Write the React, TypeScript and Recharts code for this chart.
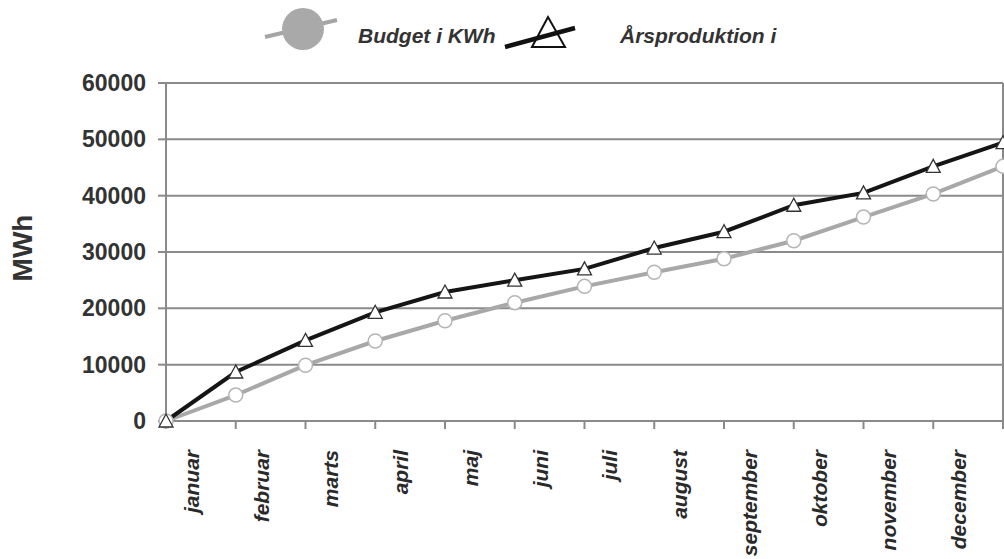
import React from "react";
import { LineChart, Line, XAxis, YAxis, CartesianGrid, ReferenceLine } from "recharts";

// måneder mellem tick-mærkerne
const months = [
  "januar", "februar", "marts", "april", "maj", "juni",
  "juli", "august", "september", "oktober", "november", "december",
];

// akkumulerede værdier, start + 12 måneder
const budget = [0, 4600, 9900, 14200, 17800, 21000, 23900, 26400, 28800, 32000, 36200, 40300, 45200];
const produktion = [0, 8700, 14300, 19300, 22900, 25000, 27000, 30700, 33600, 38300, 40500, 45200, 49400];

const yTicks = [0, 10000, 20000, 30000, 40000, 50000, 60000];
const xTicks = [0, 1, 2, 3, 4, 5, 6, 7, 8, 9, 10, 11, 12];

const data = budget.map((b, i) => ({ idx: i, budget: b, produktion: produktion[i] }));

const W = 1004;
const H = 559;
const PLOT_LEFT = 166;
const PLOT_RIGHT = 1003;
const PLOT_TOP = 83;
const PLOT_BOTTOM = 421;
const STEP = (PLOT_RIGHT - PLOT_LEFT) / 12;
const FONT = "'Liberation Sans', Arial, sans-serif";

const MonthTick = (props: any) => {
  const { x, y, payload } = props;
  const i = payload.value;
  if (i >= months.length) return null;
  const tx = x + STEP / 2 - 2;
  const ty = y + 19;
  return (
    <text
      x={tx}
      y={ty}
      transform={`rotate(-90, ${tx}, ${ty})`}
      textAnchor="end"
      fontFamily={FONT}
      fontStyle="italic"
      fontWeight="bold"
      fontSize={21}
      fill="#2a2a2a"
    >
      {months[i]}
    </text>
  );
};

const CircleDot = (props: any) => {
  const { cx, cy } = props;
  return <circle cx={cx} cy={cy} r={7} fill="#fff" stroke="#b5b5b5" strokeWidth={1.5} />;
};

const TriangleDot = (props: any) => {
  const { cx, cy } = props;
  const s = 7;
  return (
    <polygon
      points={`${cx},${cy - s} ${cx - s},${cy + s - 1} ${cx + s},${cy + s - 1}`}
      fill="#fff"
      stroke="#333"
      strokeWidth={1.3}
    />
  );
};

function LegendOverlay() {
  return (
    <svg width={W} height={70} style={{ position: "absolute", left: 0, top: 0 }}>
      <line x1={265} y1={37} x2={337} y2={20} stroke="#a5a5a5" strokeWidth={4} />
      <circle cx={303} cy={29} r={21} fill="#a9a9a9" />
      <text x={358} y={43} fontFamily={FONT} fontStyle="italic" fontWeight="bold" fontSize={21} fill="#333">
        Budget i KWh
      </text>
      <polygon points="548,17 532,47 565,47" fill="#fff" stroke="#111" strokeWidth={2} />
      <line x1={505} y1={47} x2={575} y2={28} stroke="#111" strokeWidth={4.5} />
      <text x={620} y={43} fontFamily={FONT} fontStyle="italic" fontWeight="bold" fontSize={21} fill="#333">
        Årsproduktion i
      </text>
    </svg>
  );
}

export default function App() {
  return (
    <div style={{ position: "absolute", left: 0, top: 0, width: W, height: H, background: "#fff" }}>
      <LineChart
        width={W}
        height={H}
        data={data}
        margin={{ top: PLOT_TOP, right: W - PLOT_RIGHT, bottom: 0, left: 0 }}
      >
        <CartesianGrid vertical={false} stroke="#8a8a8a" strokeWidth={2} />
        <XAxis
          dataKey="idx"
          type="number"
          domain={[0, 12]}
          ticks={xTicks}
          interval={0}
          height={H - PLOT_BOTTOM}
          tick={<MonthTick />}
          tickSize={8}
          tickLine={{ stroke: "#8a8a8a", strokeWidth: 2 }}
          axisLine={{ stroke: "#8a8a8a", strokeWidth: 2 }}
        />
        <YAxis
          domain={[0, 60000]}
          ticks={yTicks}
          interval={0}
          width={PLOT_LEFT}
          tickSize={8}
          tickMargin={12}
          tickLine={{ stroke: "#8a8a8a", strokeWidth: 2 }}
          axisLine={{ stroke: "#8a8a8a", strokeWidth: 2 }}
          tick={{ fontFamily: FONT, fontSize: 23, fontWeight: "bold", fill: "#333" }}
          label={{
            content: () => (
              <text
                x={32}
                y={248}
                transform="rotate(-90, 32, 248)"
                textAnchor="middle"
                fontFamily={FONT}
                fontWeight="bold"
                fontSize={28}
                fill="#333"
              >
                MWh
              </text>
            ),
          }}
        />
        <ReferenceLine x={12} stroke="#8a8a8a" strokeWidth={2} />
        <Line
          type="linear"
          dataKey="budget"
          stroke="#a8a8a8"
          strokeWidth={4}
          dot={<CircleDot />}
          isAnimationActive={false}
        />
        <Line
          type="linear"
          dataKey="produktion"
          stroke="#151515"
          strokeWidth={4}
          dot={<TriangleDot />}
          isAnimationActive={false}
        />
      </LineChart>
      <LegendOverlay />
    </div>
  );
}
